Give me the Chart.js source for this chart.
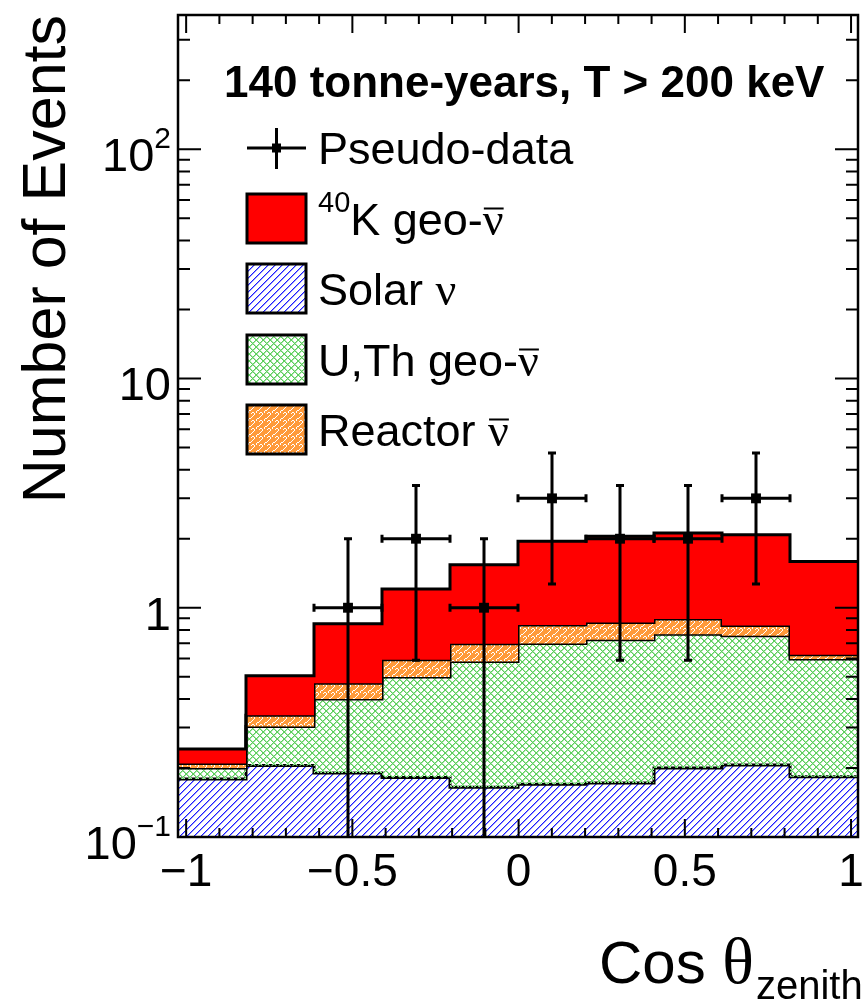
<!DOCTYPE html>
<html><head><meta charset="utf-8">
<script src="https://cdn.jsdelivr.net/npm/chart.js@4.4.1/dist/chart.umd.min.js"></script>
<style>html,body{margin:0;padding:0;background:#fff;}canvas{display:block;}</style>
</head><body>
<canvas id="c" width="865" height="1003"></canvas>
<script>
// ---------------- data ----------------
const binEdges  = [-1.0,-0.8,-0.6,-0.4,-0.2,0.0,0.2,0.4,0.6,0.8,1.0];
const solarNu   = [0.179,0.205,0.190,0.182,0.165,0.170,0.172,0.200,0.206,0.183];
const uthGeoNu  = [0.021,0.098,0.210,0.317,0.418,0.529,0.553,0.567,0.549,0.414];
const reactorNu = [0.009,0.037,0.069,0.094,0.114,0.141,0.138,0.125,0.082,0.026];
const k40GeoNu  = [0.033,0.165,0.383,0.613,0.843,1.110,1.187,1.228,1.243,0.967];
const dataX     = [-0.5,-0.3,-0.1,0.1,0.3,0.5,0.7];
const dataY     = [1,2,1,3,2,2,3];
const dataErrY  = [1.0,1.41,1.0,1.73,1.41,1.41,1.73];
const dataErrX  = [0.1,0.1,0.1,0.1,0.1,0.1,0.1];
const xTickValues = [-1,-0.5,0,0.5,1];
const xTickLabels = ['\u22121','\u22120.5','0','0.5','1'];
const yTickValues = [0.1,1,10,100];
const yTickLabels = [['10','\u22121'],['1',''],['10',''],['10','2']];
const titleText = '140 tonne-years, T > 200 keV';
const yTitle = 'Number of Events';

const SANS = '"Liberation Sans", Arial, sans-serif';
const SERIF = '"Liberation Serif", "DejaVu Serif", serif';

// ---------------- patterns ----------------
const mainCtx = document.getElementById('c').getContext('2d');
function pixelPattern(size, colorAt) {
  const c = document.createElement('canvas');
  c.width = size; c.height = size;
  const g = c.getContext('2d');
  const img = g.createImageData(size, size);
  for (let y = 0; y < size; y++) for (let x = 0; x < size; x++) {
    const col = colorAt(x, y);
    const k = (y * size + x) * 4;
    if (col) { img.data[k] = col[0]; img.data[k + 1] = col[1]; img.data[k + 2] = col[2]; img.data[k + 3] = 255; }
  }
  g.putImageData(img, 0, 0);
  return mainCtx.createPattern(c, 'repeat');
}
const BLUE = [28, 28, 255], LBLUE = [150, 150, 255], GREEN = [92, 206, 92], LGREEN = [170, 230, 170],
      ORANGE = [255, 154, 58], WHITE = [255, 255, 255];
const solarPattern = pixelPattern(7, (x, y) => {
  const r = (x + y) % 7;
  return r === 0 ? BLUE : (r === 1 ? LBLUE : null);
});
const uthPattern = pixelPattern(7, (x, y) => {
  const a = (x + y) % 7, b = (x - y + 7) % 7;
  if (a === 0 || b === 0) return GREEN;
  if (a === 1 || b === 1) return LGREEN;
  return null;
});
const reactorRows = [
  '....#...',
  '...#....',
  '.##.....',
  '#.......',
  '#...##..',
  '...#..#.',
  '......#.',
  '.....#..'
];
const reactorPattern = pixelPattern(8, (x, y) => reactorRows[y][x] === '#' ? WHITE : ORANGE);
const k40Color = '#ff0000';

// ---------------- stacked step histograms ----------------
function cumulate(arrs) { return arrs[0].map((_, i) => arrs.reduce((s, a) => s + a[i], 0)); }
function steps(vals) {
  const pts = vals.map((v, i) => ({ x: binEdges[i], y: v }));
  pts.push({ x: binEdges[binEdges.length - 1], y: vals[vals.length - 1] });
  return pts;
}
const topSolar = cumulate([solarNu]);
const topUth = cumulate([solarNu, uthGeoNu]);
const topReactor = cumulate([solarNu, uthGeoNu, reactorNu]);
const topK40 = cumulate([solarNu, uthGeoNu, reactorNu, k40GeoNu]);

function histDS(label, vals, bg, fill, order) {
  return {
    type: 'line', label, data: steps(vals), stepped: 'before',
    borderColor: '#000', borderWidth: 3, backgroundColor: bg, fill,
    pointRadius: 0, order, xAxisID: 'x', yAxisID: 'y'
  };
}

// ---------------- helpers ----------------
function richWidth(ctx, parts) {
  let w = 0;
  for (const p of parts) { ctx.font = p.font; w += ctx.measureText(p.t).width; }
  return w;
}
function drawRich(ctx, x, y, parts, align) {
  let cx = x;
  const w = richWidth(ctx, parts);
  if (align === 'right') cx = x - w; else if (align === 'center') cx = x - w / 2;
  ctx.textAlign = 'left'; ctx.textBaseline = 'alphabetic';
  for (const p of parts) {
    ctx.font = p.font;
    const pw = ctx.measureText(p.t).width;
    ctx.fillText(p.t, cx, y + (p.dy || 0));
    if (p.over) ctx.fillRect(cx + 1, y + (p.dy || 0) - p.over, pw - 1, 2);
    cx += pw;
  }
}

// ---------------- plugin: error bars, frame, ticks, labels, legend ----------------
const decor = {
  id: 'decor',
  afterDatasetsDraw(chart) {
    const ctx = chart.ctx, xs = chart.scales.x, ys = chart.scales.y;
    const ca = chart.chartArea;
    ctx.save();
    ctx.strokeStyle = '#000'; ctx.lineWidth = 3;
    const cap = 4;
    for (let i = 0; i < dataX.length; i++) {
      const px = xs.getPixelForValue(dataX[i]);
      const py = ys.getPixelForValue(dataY[i]);
      const lo = dataY[i] - dataErrY[i];
      const pyHi = ys.getPixelForValue(dataY[i] + dataErrY[i]);
      const pyLo = lo > 0 ? ys.getPixelForValue(lo) : ca.bottom;
      const pxL = xs.getPixelForValue(dataX[i] - dataErrX[i]);
      const pxR = xs.getPixelForValue(dataX[i] + dataErrX[i]);
      ctx.beginPath();
      ctx.moveTo(px, pyHi); ctx.lineTo(px, pyLo);
      ctx.moveTo(pxL, py); ctx.lineTo(pxR, py);
      ctx.moveTo(px - cap, pyHi); ctx.lineTo(px + cap, pyHi);
      if (lo > 0) { ctx.moveTo(px - cap, pyLo); ctx.lineTo(px + cap, pyLo); }
      ctx.moveTo(pxL, py - cap); ctx.lineTo(pxL, py + cap);
      ctx.moveTo(pxR, py - cap); ctx.lineTo(pxR, py + cap);
      ctx.stroke();
    }
    ctx.restore();
  },
  afterDraw(chart) {
    const ctx = chart.ctx, xt = chart.scales.xt, ys = chart.scales.y;
    const ca = chart.chartArea;
    ctx.save();
    ctx.fillStyle = '#000'; ctx.strokeStyle = '#000';
    // ticks
    ctx.lineWidth = 2;
    ctx.beginPath();
    for (let k = -10; k <= 10; k++) {
      const v = k / 10, px = xt.getPixelForValue(v);
      const len = (k % 5 === 0) ? 18 : 9;
      ctx.moveTo(px, ca.bottom); ctx.lineTo(px, ca.bottom - len);
      ctx.moveTo(px, ca.top); ctx.lineTo(px, ca.top + len);
    }
    for (let d = -1; d <= 2; d++) {
      for (let m = 1; m <= 9; m++) {
        const v = m * Math.pow(10, d);
        if (v < ys.min || v > ys.max) continue;
        const py = ys.getPixelForValue(v);
        const len = m === 1 ? 23 : 12;
        ctx.moveTo(ca.left, py); ctx.lineTo(ca.left + len, py);
        ctx.moveTo(ca.right, py); ctx.lineTo(ca.right - len, py);
      }
    }
    ctx.stroke();
    // frame
    ctx.lineWidth = 2.5;
    ctx.strokeRect(ca.left, ca.top, ca.right - ca.left, ca.bottom - ca.top);
    // x tick labels
    ctx.font = '46px ' + SANS; ctx.textAlign = 'center'; ctx.textBaseline = 'alphabetic';
    xTickValues.forEach((v, i) => ctx.fillText(xTickLabels[i], xt.getPixelForValue(v), 886));
    // y tick labels
    yTickValues.forEach((v, i) => {
      const py = ys.getPixelForValue(v);
      const [b, e] = yTickLabels[i];
      const parts = [{ t: b, font: '47px ' + SANS }];
      if (e) parts.push({ t: e, font: '30px ' + SANS, dy: -23 });
      drawRich(ctx, 171, py + 22, parts, 'right');
    });
    // y title
    ctx.save();
    ctx.translate(65, ca.top);
    ctx.rotate(-Math.PI / 2);
    ctx.font = '61px ' + SANS; ctx.textAlign = 'right';
    ctx.fillText(yTitle, 0, 0);
    ctx.restore();
    // x title
    ctx.textAlign = 'left';
    ctx.font = '60px ' + SANS;
    ctx.fillText('Cos ', 599, 983);
    const wCos = ctx.measureText('Cos ').width;
    ctx.font = '66px ' + SERIF;
    ctx.fillText('\u03b8', 599 + wCos, 983);
    const wTh = ctx.measureText('\u03b8').width;
    ctx.font = '40px ' + SANS;
    ctx.fillText('zenith', 599 + wCos + wTh + 2, 999);
    // title
    ctx.font = 'bold 44px ' + SANS;
    ctx.fillText(titleText, 224, 97);
    // legend
    const bx = 247, bw = 59, bh = 49;
    ctx.lineWidth = 3;
    ctx.beginPath();
    ctx.moveTo(bx, 148); ctx.lineTo(bx + bw, 148);
    ctx.moveTo(bx + bw / 2, 128); ctx.lineTo(bx + bw / 2, 169);
    ctx.stroke();
    ctx.fillRect(bx + bw / 2 - 4.5, 148 - 4.5, 9, 9);
    const tf = '45px ' + SANS, nf = '46px ' + SERIF;
    drawRich(ctx, 318, 164, [{ t: 'Pseudo-data', font: tf }], 'left');
    const entries = [
      { y: 194, fill: k40Color, parts: [{ t: '40', font: '29px ' + SANS, dy: -23 }, { t: 'K geo-', font: tf }, { t: '\u03bd', font: nf, over: 27 }] },
      { y: 264, fill: solarPattern, parts: [{ t: 'Solar ', font: tf }, { t: '\u03bd', font: nf }] },
      { y: 335, fill: uthPattern, parts: [{ t: 'U,Th geo-', font: tf }, { t: '\u03bd', font: nf, over: 27 }] },
      { y: 405, fill: reactorPattern, parts: [{ t: 'Reactor ', font: tf }, { t: '\u03bd', font: nf, over: 27 }] }
    ];
    for (const en of entries) {
      ctx.fillStyle = en.fill;
      ctx.fillRect(bx, en.y, bw, bh);
      ctx.fillStyle = '#000';
      ctx.lineWidth = 3;
      ctx.strokeRect(bx, en.y, bw, bh);
      drawRich(ctx, 318, en.y + bh / 2 + 16, en.parts, 'left');
    }
    ctx.restore();
  }
};

// ---------------- chart ----------------
new Chart(document.getElementById('c'), {
  type: 'line',
  data: {
    datasets: [
      histDS('Solar \u03bd', topSolar, solarPattern, 'start', 4),
      histDS('U,Th geo-\u03bd\u0304', topUth, uthPattern, '-1', 3),
      histDS('Reactor \u03bd\u0304', topReactor, reactorPattern, '-1', 2),
      histDS('40K geo-\u03bd\u0304', topK40, k40Color, '-1', 1),
      {
        type: 'line', label: 'Pseudo-data', showLine: false,
        data: dataX.map((x, i) => ({ x, y: dataY[i] })),
        pointStyle: 'rect', pointRadius: 7, pointBackgroundColor: '#000',
        pointBorderWidth: 0, borderColor: '#000', order: 0, xAxisID: 'x', yAxisID: 'y'
      }
    ]
  },
  options: {
    responsive: false, animation: false, devicePixelRatio: 1,
    layout: { padding: { left: 178, top: 15, right: 3, bottom: 166 } },
    plugins: { legend: { display: false }, tooltip: { enabled: false } },
    scales: {
      x: { type: 'linear', min: -1, max: 1, display: false },
      xt: { type: 'linear', axis: 'x', min: -1.0245, max: 1.0209, display: false },
      y: { type: 'logarithmic', min: 0.1, max: 385, display: false, bounds: 'data' }
    }
  },
  plugins: [decor]
});
</script>
</body></html>
